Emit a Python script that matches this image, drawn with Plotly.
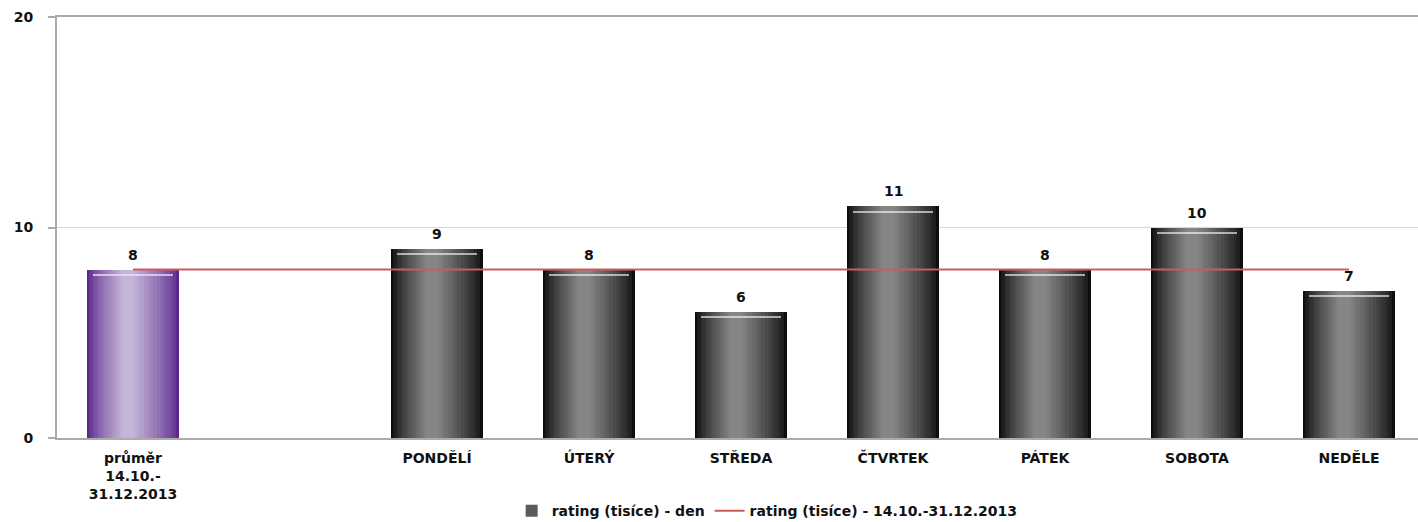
import plotly.graph_objects as go

# ---- data ----
avg_label = "průměr<br>14.10.-<br>31.12.2013"
avg_value = [8]
days = ["PONDĚLÍ", "ÚTERÝ", "STŘEDA", "ČTVRTEK", "PÁTEK", "SOBOTA", "NEDĚLE"]
day_values = [9, 8, 6, 11, 8, 10, 7]
avg_line_value = 8
bar_name = "rating (tisíce) - den"
line_name = "rating (tisíce) - 14.10.-31.12.2013"
y_ticks = [0, 10, 20]

x_avg = [0]
x_days = list(range(2, 2 + len(days)))

FONT = "DejaVu Sans"
TXT = "#111111"

fig = go.Figure()

W = 0.61
N = 16
HC = -W / 2 + 0.44 * W  # highlight centre offset


def mix(a, b, t):
    return "rgb(%d,%d,%d)" % tuple(round(a[i] + (b[i] - a[i]) * t) for i in range(3))


def add_cylinder(xs, ys, edge, centre, legend_name=None, top_hl="rgba(255,255,255,0.6)"):
    left0, right0 = -W / 2, W / 2
    for k in range(N):
        t = k / N
        left = HC - (HC - left0) * (1 - t)
        right = HC + (right0 - HC) * (1 - t)
        col = mix(edge, centre, min(1.0, (t * 1.15) ** 0.8))
        show = legend_name is not None and k == N // 2
        fig.add_trace(go.Bar(
            x=xs, y=ys, width=right - left, offset=left,
            marker=dict(color=col, line=dict(width=0)),
            name=legend_name if show else None,
            showlegend=show, hoverinfo="skip",
        ))
    # thin top highlight ring
    fig.add_trace(go.Bar(
        x=xs, y=[0.08] * len(ys), base=[v - 0.3 for v in ys],
        width=W * 0.86, offset=-W * 0.43,
        marker=dict(color=top_hl, line=dict(width=0)),
        showlegend=False, hoverinfo="skip",
    ))


add_cylinder(x_avg, avg_value, (92, 40, 140), (196, 182, 216),
             top_hl="rgba(250,225,255,0.7)")
add_cylinder(x_days, day_values, (14, 14, 14), (134, 134, 134), legend_name=bar_name)

# average line
fig.add_trace(go.Scatter(
    x=x_avg + x_days, y=[avg_line_value] * (len(x_avg) + len(x_days)),
    mode="lines", line=dict(color="#d05a5a", width=2),
    name=line_name, hoverinfo="skip",
))

# value labels
for xv, yv in zip(x_avg + x_days, avg_value + day_values):
    fig.add_annotation(
        x=xv, y=yv, text=str(yv), showarrow=False,
        yanchor="bottom", yshift=5,
        font=dict(family=FONT, size=14, color=TXT, weight="bold"),
    )

fig.update_layout(
    width=1418, height=522,
    barmode="overlay", bargap=0,
    plot_bgcolor="white", paper_bgcolor="white",
    margin=dict(l=57, r=0, t=17, b=84, autoexpand=False),
    font=dict(family=FONT, size=12, color=TXT),
    legend=dict(
        orientation="h", x=0.541, xanchor="center", xref="container",
        y=0.021, yanchor="middle", yref="container",
        font=dict(family=FONT, size=14, color=TXT, weight="bold"),
        itemwidth=30, tracegroupgap=0,
    ),
    xaxis=dict(
        range=[-0.5, 8.454], automargin=False,
        tickmode="array", tickvals=x_avg + x_days, ticktext=[avg_label] + days,
        tickfont=dict(family=FONT, size=14, color=TXT, weight="bold"),
        showgrid=False, zeroline=False, ticks="",
        ticklabelstandoff=6,
        showline=True, mirror=True, linecolor="#ababab", linewidth=2,
    ),
    yaxis=dict(
        range=[0, 20], tickvals=y_ticks, automargin=False,
        tickfont=dict(family=FONT, size=14, color=TXT, weight="bold"),
        showgrid=True, gridcolor="#d6d6d6", gridwidth=1, zeroline=False,
        showline=True, linecolor="#ababab", linewidth=2,
        ticks="outside", ticklen=7, tickcolor="#ababab", tickwidth=2,
        ticklabelstandoff=12,
    ),
)

fig.write_html("out.html", config={"displayModeBar": False},
               post_script="document.body.style.margin='0';")
